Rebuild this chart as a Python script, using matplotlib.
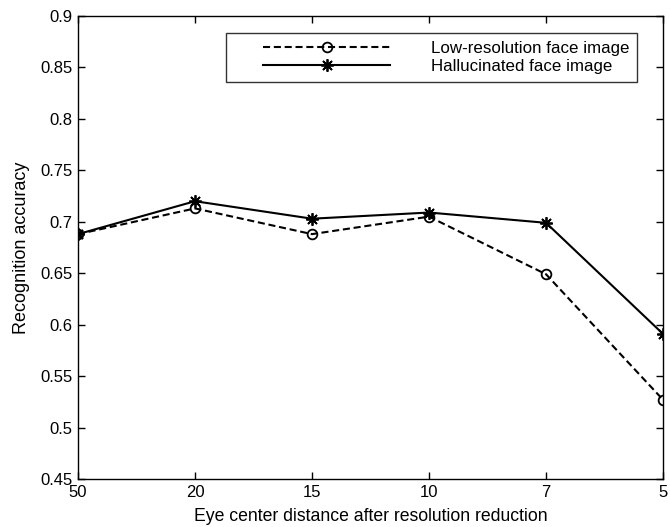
import matplotlib
matplotlib.use("Agg")
import numpy as np
import matplotlib.pyplot as plt
from matplotlib.legend_handler import HandlerLine2D

# eye center distance (pixels) after resolution reduction
distances = ["50", "20", "15", "10", "7", "5"]
low_res_acc = [0.688, 0.713, 0.688, 0.705, 0.649, 0.527]
halluc_acc = [0.688, 0.720, 0.703, 0.709, 0.699, 0.591]
y_ticks = [0.45, 0.5, 0.55, 0.6, 0.65, 0.7, 0.75, 0.8, 0.85, 0.9]


class PaddedLine(HandlerLine2D):
    """Legend line with some empty room on its left, like MATLAB."""
    def __init__(self, pad, **kw):
        HandlerLine2D.__init__(self, **kw)
        self.pad = pad

    def get_xdata(self, legend, xdescent, ydescent, width, height, fontsize):
        x0 = -xdescent + self.pad
        x1 = -xdescent + width
        return np.array([x0, x1]), np.array([(x0 + x1) / 2])


plt.rcParams['font.family'] = ['Liberation Sans', 'DejaVu Sans']

fig = plt.figure(figsize=(6.7, 5.27), dpi=100)
ax = fig.add_axes([0.1164, 0.0911, 0.8732, 0.8785])

x = list(range(len(distances)))
l1, = ax.plot(x, low_res_acc, color='black', linestyle='--', linewidth=1.5,
              marker='o', markersize=7, markerfacecolor='none', markeredgewidth=1.3,
              dashes=(3.4, 1.8), label='Low-resolution face image')
l2, = ax.plot(x, halluc_acc, color='black', linestyle='-', linewidth=1.5,
              marker=(8, 2, 0), markersize=9, markeredgewidth=1.3,
              label='Hallucinated face image')

ax.set_xlim(0, len(distances) - 1)
ax.set_ylim(0.45, 0.9)
ax.set_xticks(x)
ax.set_xticklabels(distances)
ax.set_yticks(y_ticks)
ax.set_yticklabels(['%g' % v for v in y_ticks])
ax.tick_params(direction='in', top=True, right=True, length=5, width=1,
               labelsize=12, pad=4)
for s in ax.spines.values():
    s.set_linewidth(1)

ax.set_xlabel('Eye center distance after resolution reduction', fontsize=12.7, labelpad=6)
ax.set_ylabel('Recognition accuracy', fontsize=13, labelpad=7)

leg = ax.legend(handler_map={l1: PaddedLine(21.6), l2: PaddedLine(21.6)},
                loc='upper right', bbox_to_anchor=(0.9556, 0.9633), fontsize=12.2,
                frameon=True, fancybox=False, handlelength=9.24, handletextpad=2.42,
                borderpad=0.45, labelspacing=0.2, borderaxespad=0)
leg.get_frame().set_edgecolor('black')
leg.get_frame().set_linewidth(1)

fig.savefig('out.png', dpi=100)
